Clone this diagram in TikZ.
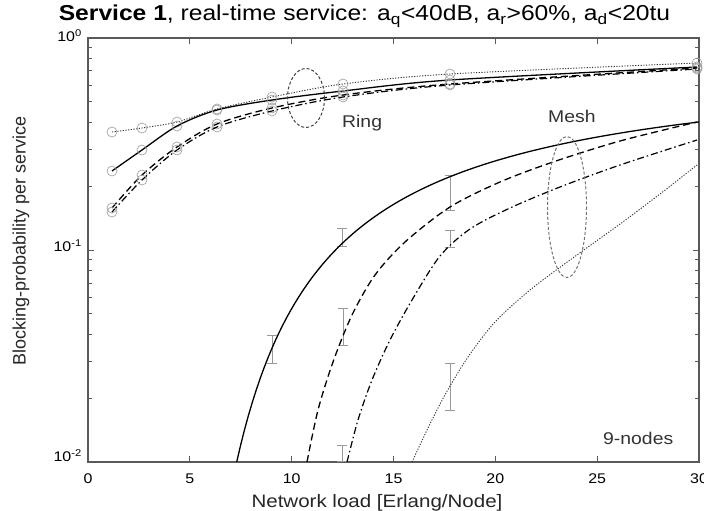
\documentclass[tikz,border=0pt]{standalone}
\usepackage{fontspec}
\setmainfont{Liberation Sans}
\usetikzlibrary{plotmarks}
% slightly widened text, as in the printed figure
\newcommand\wx[1]{\scalebox{1.14}[1]{#1}}
\begin{document}
\begin{tikzpicture}[x=1pt,y=-1pt,
  axisframe/.style={draw=black!65,line width=1.1pt},
  tickmark/.style={draw=black!65,line width=0.7pt},
  ticklabel/.style={font=\fontsize{14}{16}\selectfont,inner sep=0pt},
  axislabel/.style={font=\fontsize{18}{20}\selectfont,inner sep=0pt,text=black!85},
  plotlabel/.style={font=\fontsize{17}{19}\selectfont,inner sep=0pt,anchor=base west,text=black!80},
  csolid/.style={draw=black,line width=1.3pt},
  cdashed/.style={draw=black,line width=1.3pt,dash pattern=on 7pt off 4pt},
  cdashdot/.style={draw=black,line width=1.2pt,dash pattern=on 7pt off 3pt on 1.5pt off 3pt},
  cdotted/.style={draw=black!80,line width=0.9pt,dash pattern=on 1.2pt off 1.5pt},
  ringmarks/.style={mark=o,mark size=5pt,mark options={solid,draw=black!35,line width=0.7pt}},
  errbar/.style={draw=black!40,line width=0.7pt},
  group/.style={line width=1pt,dash pattern=on 3pt off 2pt}
]
\useasboundingbox[fill=white] (0,0) rectangle (704,511);

% title
\node[anchor=base,inner sep=0pt,font=\fontsize{21.6}{24}\selectfont] (title) at (364.5,21)
  {\wx{\textbf{Service 1}, real-time service: a\textsubscript{q}<40dB, a\textsubscript{r}>60\%, a\textsubscript{d}<20tu}};

% axis frame
\draw[axisframe] (88,38) rectangle (699,462);

% x ticks and labels
\foreach \k in {0,5,...,30} {
  \pgfmathsetmacro\xp{88+20.367*\k}
  \draw[tickmark] (\xp,462) -- (\xp,456);
  \draw[tickmark] (\xp,38) -- (\xp,44);
  \node[ticklabel,anchor=base] (xt\k) at (\xp,483) {\wx{\k}};
}

% y ticks (log scale, two decades)
\foreach \d in {1,2} {
  \foreach \m in {2,...,9} {
    \pgfmathsetmacro\yp{38-212*(log10(\m)-\d)}
    \draw[tickmark] (88,\yp) -- (92,\yp);
    \draw[tickmark] (699,\yp) -- (695,\yp);
  }
}
\foreach \e/\yp in {0/38,-1/250,-2/462} {
  \draw[tickmark] (88,\yp) -- (94,\yp);
  \draw[tickmark] (699,\yp) -- (693,\yp);
}
\node[ticklabel,anchor=east] (y0) at (82,36) {\wx{10\textsuperscript{0}}};
\node[ticklabel,anchor=east] (y1) at (82,246) {\wx{10\textsuperscript{-1}}};
\node[ticklabel,anchor=east] (y2) at (82,456) {\wx{10\textsuperscript{-2}}};

% axis labels
\node[axislabel,anchor=base] (xlab) at (377,507) {\wx{Network load [Erlang/Node]}};
\node[axislabel,rotate=90] (ylab) at (21,241) {Blocking-probability per service};

% ring curves with markers
\draw[cdotted] plot[smooth,ringmarks] coordinates {(112,132) (142,128) (177,122) (217,109) (272,97) (343,84) (450,74) (697,63)};
\draw[csolid] plot[smooth,ringmarks] coordinates {(112,171) (142,150) (177,126) (217,110) (272,100) (343,91) (450,80) (697,67)};
\draw[cdashed] plot[smooth,ringmarks] coordinates {(112,208) (142,175) (177,147) (217,124) (272,108) (343,95) (450,84) (697,68)};
\draw[cdashdot] plot[smooth,ringmarks] coordinates {(112,212) (142,180) (177,150) (217,127) (272,111) (343,97) (450,85) (697,69)};

% mesh error bars
\foreach \xp/\ya/\yb in {272/335/363, 342/228/246, 343/308/345, 342/445/461, 450/175/210, 450/230/247, 450/363/410} {
  \draw[errbar] (\xp,\ya) -- (\xp,\yb);
  \draw[errbar] (\xp-5,\ya) -- (\xp+5,\ya);
  \draw[errbar] (\xp-5,\yb) -- (\xp+5,\yb);
}

% mesh curves
\draw[csolid] plot[domain=7.3:30,samples=120,variable=\u]
  ({88+20.367*\u},{38+212*(0.081+8.56/(\u-2.84))});
\draw[cdashed] plot[smooth] coordinates {(307,462) (318,410) (333,362) (352,315) (375,275) (405,242) (450,207) (500,182) (553,162) (620,141) (697,122)};
\draw[cdashdot] plot[smooth] coordinates {(347,462) (358,420) (372,380) (390,340) (412,300) (440,256) (470,229) (510,208) (560,187) (620,165) (697,140)};
\draw[cdotted] plot[smooth] coordinates {(412,462) (428,428) (446,393) (468,357) (495,322) (530,290) (570,260) (620,224) (660,194) (697,165)};

% grouping ellipses
\draw[group,draw=black!75] (306,98) ellipse [x radius=18.5, y radius=29.5];
\draw[group,draw=black!55] (567,207) ellipse [x radius=19.5, y radius=70.5];

% labels
\node[plotlabel] (ring) at (342,127) {\wx{Ring}};
\node[plotlabel] (mesh) at (548,122) {\wx{Mesh}};
\node[plotlabel] (nodes) at (603,444) {\wx{9-nodes}};
\end{tikzpicture}
\end{document}
